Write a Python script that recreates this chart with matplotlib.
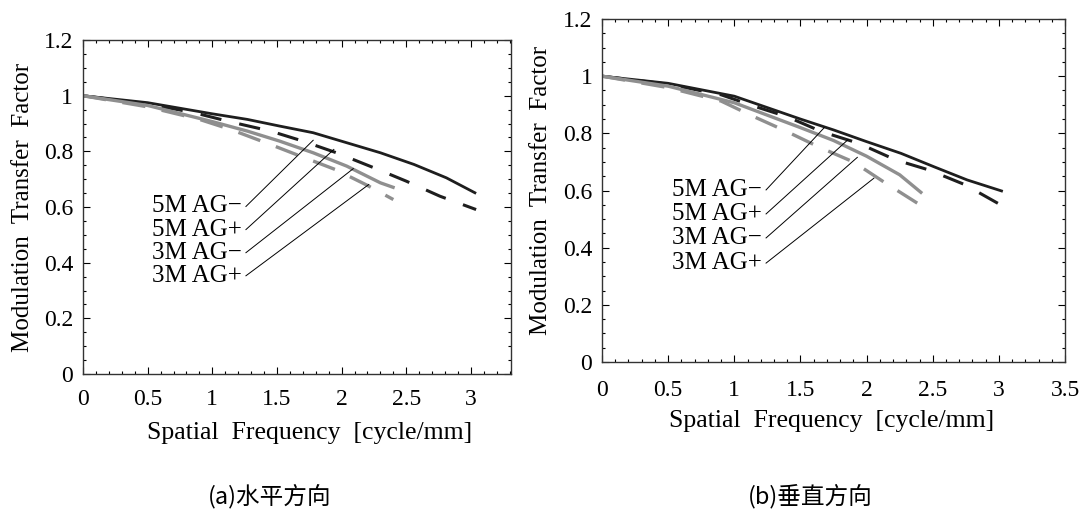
import matplotlib
matplotlib.use('Agg')
import matplotlib.pyplot as plt
from matplotlib.ticker import MultipleLocator, FuncFormatter

plt.rcParams['font.family'] = ['Liberation Serif', 'DejaVu Serif']

names = ['5M AG\u2212', '5M AG+', '3M AG\u2212', '3M AG+']

# (a) horizontal direction
h_5m_minus_x = [0, 0.5, 1.0, 1.27, 1.52, 1.78, 2.04, 2.3, 2.56, 2.81, 3.04]
h_5m_minus_y = [1.0, 0.975, 0.935, 0.915, 0.891, 0.867, 0.831, 0.795, 0.753, 0.705, 0.649]
h_5m_plus_x = [0, 0.5, 0.85, 1.15, 1.45, 1.70, 1.96, 2.25, 2.50, 2.76, 3.04]
h_5m_plus_y = [1.0, 0.97, 0.94, 0.905, 0.873, 0.837, 0.795, 0.741, 0.693, 0.639, 0.591]
h_3m_minus_x = [0, 0.5, 1.0, 1.27, 1.52, 1.78, 2.04, 2.3, 2.41]
h_3m_minus_y = [1.0, 0.965, 0.907, 0.873, 0.837, 0.795, 0.747, 0.687, 0.669]
h_3m_plus_x = [0, 0.5, 0.9, 1.14, 1.42, 1.67, 1.95, 2.19, 2.40]
h_3m_plus_y = [1.0, 0.96, 0.915, 0.879, 0.83, 0.785, 0.735, 0.68, 0.627]

# (b) vertical direction
v_5m_minus_x = [0, 0.5, 1.0, 1.5, 1.75, 2.0, 2.26, 2.51, 2.76, 3.03]
v_5m_minus_y = [1.0, 0.975, 0.93, 0.85, 0.812, 0.771, 0.73, 0.683, 0.637, 0.597]
v_5m_plus_x = [0, 0.5, 0.9, 1.15, 1.4, 1.66, 1.94, 2.22, 2.47, 2.74, 3.02]
v_5m_plus_y = [1.0, 0.972, 0.935, 0.895, 0.858, 0.806, 0.765, 0.707, 0.672, 0.621, 0.548]
v_3m_minus_x = [0, 0.5, 1.0, 1.5, 1.75, 2.0, 2.25, 2.42]
v_3m_minus_y = [1.0, 0.965, 0.907, 0.82, 0.775, 0.72, 0.655, 0.59]
v_3m_plus_x = [0, 0.5, 0.9, 1.14, 1.38, 1.65, 1.9, 2.13, 2.42]
v_3m_plus_y = [1.0, 0.96, 0.913, 0.86, 0.81, 0.75, 0.70, 0.63, 0.545]

styles = [dict(color='#1e1e1e', lw=2.0, ls='-'),
          dict(color='#1e1e1e', lw=2.2, ls=(0, (7, 6))),
          dict(color='#8f8f8f', lw=2.4, ls='-'),
          dict(color='#8f8f8f', lw=2.4, ls=(0, (7, 5)))]


def fmt(v, pos):
    return '%g' % round(v, 2)


def draw(ax, curves, xmax, label_y, label_x, targets):
    for (xs, ys), st in zip(curves, styles):
        ax.plot(xs, ys, solid_capstyle='butt', dash_capstyle='butt', **st)
    for name, ly, tgt in zip(names, label_y, targets):
        ax.text(label_x, ly, name, ha='right', va='center', fontsize=18)
        ax.plot([label_x + 0.03, tgt[0]], [ly, tgt[1]], color='black', lw=0.7)
    ax.set_xlim(0, xmax)
    ax.set_ylim(0, 1.2)
    ax.xaxis.set_major_locator(MultipleLocator(0.5))
    ax.xaxis.set_minor_locator(MultipleLocator(0.1))
    ax.yaxis.set_major_locator(MultipleLocator(0.2))
    ax.yaxis.set_minor_locator(MultipleLocator(0.05))
    ax.xaxis.set_major_formatter(FuncFormatter(fmt))
    ax.yaxis.set_major_formatter(FuncFormatter(fmt))
    ax.tick_params(which='both', direction='in', top=True, right=True, labelsize=17, width=0.8)
    ax.tick_params(which='major', length=5)
    ax.tick_params(which='minor', length=2.5)
    ax.tick_params(axis='y', pad=7)
    for s in ax.spines.values():
        s.set_linewidth(1.0)
        s.set_color('#333333')
    ax.set_ylabel('Modulation  Transfer  Factor', fontsize=18)
    ax.set_xlabel('Spatial  Frequency  [cycle/mm]', fontsize=18.5)


fig = plt.figure(figsize=(10.82, 5.21), dpi=100)
ax1 = fig.add_axes([0.0767, 0.2821, 0.3956, 0.641])
ax2 = fig.add_axes([0.5564, 0.3052, 0.4279, 0.6583])

draw(ax1,
     [(h_5m_minus_x, h_5m_minus_y), (h_5m_plus_x, h_5m_plus_y),
      (h_3m_minus_x, h_3m_minus_y), (h_3m_plus_x, h_3m_plus_y)],
     3.31, [0.602, 0.519, 0.436, 0.353], 1.23,
     [(1.78, 0.84), (1.94, 0.807), (2.09, 0.738), (2.21, 0.681)])
ax1.tick_params(axis='x', pad=11)
ax1.yaxis.set_label_coords(-0.115, 0.5)
ax1.xaxis.set_label_coords(0.53, -0.144)

draw(ax2,
     [(v_5m_minus_x, v_5m_minus_y), (v_5m_plus_x, v_5m_plus_y),
      (v_3m_minus_x, v_3m_minus_y), (v_3m_plus_x, v_3m_plus_y)],
     3.5, [0.602, 0.518, 0.434, 0.346], 1.21,
     [(1.68, 0.82), (1.86, 0.778), (1.93, 0.716), (2.055, 0.643)])
ax2.tick_params(axis='x', pad=13)
ax2.yaxis.set_label_coords(-0.108, 0.5)
ax2.xaxis.set_label_coords(0.495, -0.14)

cjk = ['Noto Sans CJK SC', 'DejaVu Sans']
fig.text(270 / 1082, 1 - 496 / 521, '(a)水平方向', ha='center', va='center', fontsize=17, family=cjk)
fig.text(810 / 1082, 1 - 496 / 521, '(b)垂直方向', ha='center', va='center', fontsize=17, family=cjk)

fig.savefig('out.png', dpi=100)
